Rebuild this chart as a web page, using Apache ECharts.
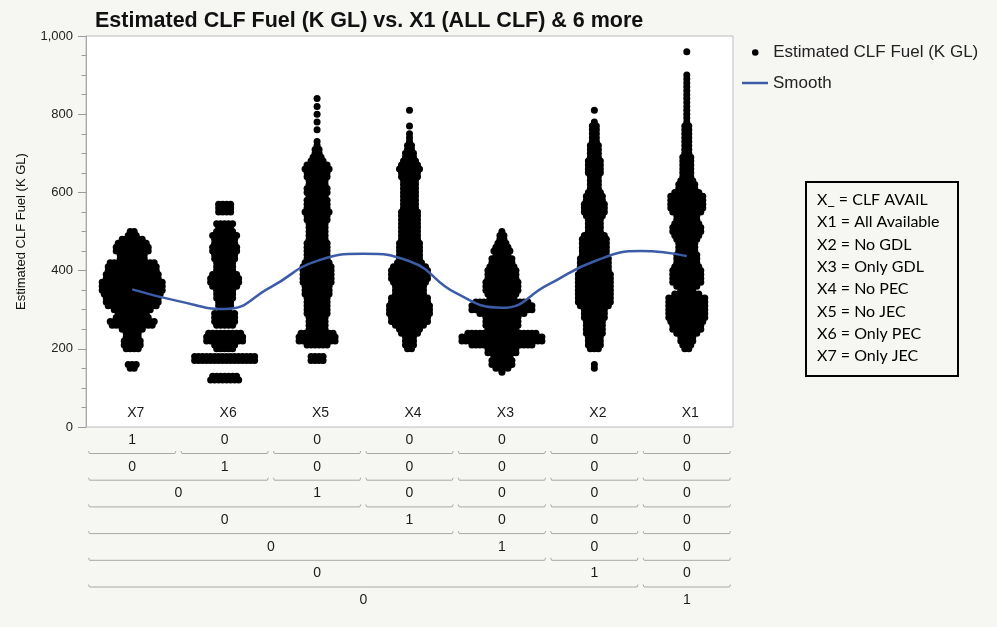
<!DOCTYPE html>
<html>
<head>
<meta charset="utf-8">
<script src="https://cdn.jsdelivr.net/npm/echarts@6/dist/echarts.min.js"></script>
<style>
  html, body { margin: 0; padding: 0; background: #f6f6f3; }
  #chart { width: 997px; height: 627px; }
</style>
</head>
<body>
<div id="chart"></div>
<script>
// Categories along the x axis (left to right)
const categories = ['X7', 'X6', 'X5', 'X4', 'X3', 'X2', 'X1'];

// Beeswarm rows: how many dots sit side by side in each 10 K GL band,
// listed from the group's lowest band upward.
const bandStep = 10;
const x7Base = 150;
const x7Counts = [2,3,0,0,0,4,5,5,4,4,6,11,12,9,8,10,13,14,14,15,16,16,16,14,14,13,13,12,7,7,9,9,8,6,3,2];
const x6Base = 120;
const x6Counts = [8,7,0,0,0,16,16,0,5,6,10,10,9,0,5,6,6,6,3,4,4,5,5,5,7,8,8,7,5,5,5,6,6,7,7,6,6,7,5,4,5,0,0,4,4,4];
const x5Base = 170;
const x5Counts = [4,4,0,0,6,10,10,9,5,5, 5,5,6,6,6,6,6,7,7,7, 8,8,8,8,8,7,6,6,6,6, 6,5,5,5,5,5,6,6,7,6, 6,6,5,6,6,5,5,6,6,7, 6,4,3,2,2,1,1,0,0,1, 0,1,0,1,0,1,0,1];
const x4Base = 200;
const x4Counts = [2,3,3,3,5,6,8,10,10,11, 11,11,10,10,8,8,8,9,10,10, 10,9,7,6,6,6,6,6,5,5, 5,5,5,5,5,5,4,4,4,4, 4,4,4,4,5,5,6,5,4,3, 3,2,2,1,1,1,0,1,0,0, 0,1];
const x3Base = 140;
const x3Counts = [1,4,6,6,5,8,8,16,21,21, 18,8,9,9,9,12,16,16,14,7, 8,9,9,9,8,8,8,7,6,6, 4,5,4,3,2,2,1];
const x2Base = 150;
const x2Counts = [1,1,0,0,0,3,4,4,4,5, 5,5,5,6,6,6,8,9,9,9, 9,9,9,9,9,8,8,8,8,7, 7,7,7,7,6,4,4,4,4,5, 6,6,6,5,5,4,3,3,3,3, 4,4,4,4,3,3,3,3,2,2, 2,2,2,1,0,0,1];
const x1Base = 200;
const x1Counts = [2,3,4,4,6,8,8,9,10,10, 10,10,10,10,7,4,6,8,8,8, 8,7,6,6,6,5,5,5,6,7, 8,8,7,6,6,8,9,9,9,9, 7,5,5,4,3,3,3,3,3,3, 2,2,2,2,2,2,2,2,1,1, 1,1,1,1,1,1,1,1,1,1, 1,0,0,0,0,0,1];

const groupBases = [x7Base, x6Base, x5Base, x4Base, x3Base, x2Base, x1Base];
const groupCounts = [x7Counts, x6Counts, x5Counts, x4Counts, x3Counts, x2Counts, x1Counts];

// Smoothing curve, read at every half category step
const smoothAt = [0, 0.5, 1, 1.5, 2, 2.5, 3, 3.5, 4, 4.5, 5, 5.5, 6];
const smoothValues = [352, 322, 302, 358, 425, 443, 424, 343, 305, 364, 424, 450, 437];

// Y axis ticks
const yMin = 0, yMax = 1000, yInterval = 200;

// Text of the key box on the right
const keyLines = ['X_ = CLF AVAIL', 'X1 = All Available', 'X2 = No GDL', 'X3 = Only GDL',
                  'X4 = No PEC', 'X5 = No JEC', 'X6 = Only PEC', 'X7 = Only JEC'];

const seriesName = 'Estimated CLF Fuel (K GL)';
const smoothName = 'Smooth';

// ---- layout / style ----
const BG = '#f6f6f3';
const DOT = 7;         // dot diameter, px
const DOT_STEP = 4;    // horizontal spacing of side-by-side dots, px
const SANS = '"Liberation Sans", Arial, sans-serif';
const LINE_BLUE = '#3c5ca8';

// Expand the band counts into beeswarm points, offset sideways in pixels
const swarm = [];
groupCounts.forEach((counts, gi) => {
  counts.forEach((n, bi) => {
    const v = groupBases[gi] + bi * bandStep;
    for (let k = 0; k < n; k++) {
      swarm.push({ value: [gi, v], symbolOffset: [(k - (n - 1) / 2) * DOT_STEP, 0] });
    }
  });
});

const chart = echarts.init(document.getElementById('chart'), null, { renderer: 'canvas' });

const option = {
  backgroundColor: BG,
  animation: false,
  title: {
    text: 'Estimated CLF Fuel (K GL) vs. X1 (ALL CLF) & 6 more',
    left: 90, top: 5,
    textStyle: { fontFamily: SANS, fontSize: 21.5, fontWeight: 'bold', color: '#111' }
  },
  legend: {
    orient: 'vertical',
    left: 747, top: 39,
    itemWidth: 26, itemHeight: 6.5,
    textStyle: { fontFamily: SANS, fontSize: 17, color: '#222' },
    data: [{ name: seriesName, icon: 'circle', itemStyle: { color: '#000' } }]
  },
  grid: {
    left: 86, right: 264, top: 36, bottom: 200,
    show: true, backgroundColor: '#ffffff', borderColor: '#bdbdbd', borderWidth: 1
  },
  xAxis: [
    {
      type: 'category', data: categories, boundaryGap: true,
      axisLine: { show: false }, axisTick: { show: false }, splitLine: { show: false },
      axisLabel: {
        inside: true, margin: 7, padding: [0, 0, 0, 7],
        fontFamily: SANS, fontSize: 14, color: '#1a1a1a'
      }
    },
    {
      type: 'value', min: -0.5, max: categories.length - 0.5, show: false
    }
  ],
  yAxis: {
    type: 'value', min: yMin, max: yMax, interval: yInterval,
    name: seriesName, nameLocation: 'middle', nameGap: 58, nameRotate: 90,
    nameTextStyle: { fontFamily: SANS, fontSize: 13, color: '#111' },
    axisLine: { show: true, onZero: false, lineStyle: { color: '#a9a9a9' } },
    axisTick: { show: true, length: 8, lineStyle: { color: '#9a9a9a' } },
    minorTick: { show: true, splitNumber: 4, length: 4.5, lineStyle: { color: '#9a9a9a' } },
    splitLine: { show: false },
    axisLabel: {
      margin: 13, fontFamily: SANS, fontSize: 13, color: '#222',
      formatter: v => v.toLocaleString('en-US')
    }
  },
  series: [
    {
      name: seriesName, type: 'scatter', xAxisIndex: 0, yAxisIndex: 0,
      data: swarm, symbol: 'circle', symbolSize: DOT,
      large: false, progressive: 0,
      itemStyle: { color: '#000', opacity: 1 },
      emphasis: { disabled: true }, z: 2
    },
    {
      name: smoothName, type: 'line', xAxisIndex: 1, yAxisIndex: 0,
      data: smoothAt.map((p, i) => [p, smoothValues[i]]),
      smooth: 0.5, symbol: 'none',
      lineStyle: { color: LINE_BLUE, width: 2.5 },
      itemStyle: { color: LINE_BLUE },
      z: 3
    }
  ]
};

chart.setOption(option);

// ---- nested indicator table under the plot, legend line entry and key box ----
const centers = categories.map((_, i) => chart.convertToPixel({ xAxisIndex: 0 }, i));
const band = centers[1] - centers[0];
const colLeft = i => centers[i] - band / 2;
const colRight = i => centers[i] + band / 2;

// Row k shows the 0/1 indicator of categories[k]; columns before k collapse into one "0"
function rowSpans(k) {
  const spans = [];
  if (k > 0) spans.push({ from: 0, to: k - 1, text: '0' });
  spans.push({ from: k, to: k, text: '1' });
  for (let j = k + 1; j < categories.length; j++) spans.push({ from: j, to: j, text: '0' });
  return spans;
}

const ROW0 = 440, ROW_STEP = 26.7;
const elements = [];
categories.forEach((_, k) => {
  const y = ROW0 + k * ROW_STEP;
  rowSpans(k).forEach(s => {
    const x = (colLeft(s.from) + colRight(s.to)) / 2;
    elements.push({
      type: 'text', silent: true,
      style: { text: s.text, x: x, y: y, align: 'center', verticalAlign: 'middle',
               font: '14px ' + SANS, fill: '#1a1a1a' }
    });
    if (k > 0) {
      // bracket above this label marking the columns it covers
      const by = y - ROW_STEP + 13.5;
      const x0 = colLeft(s.from) + 2.5, x1 = colRight(s.to) - 2.5;
      elements.push({
        type: 'polyline', silent: true,
        shape: { points: [[x0, by - 2.5], [x0 + 1, by], [x1 - 1, by], [x1, by - 2.5]] },
        style: { stroke: '#a8a8a8', lineWidth: 1, fill: null }
      });
    }
  });
});

// Legend entry for the smoothing line
elements.push({
  type: 'line', silent: true,
  shape: { x1: 742, y1: 83, x2: 768, y2: 83 },
  style: { stroke: LINE_BLUE, lineWidth: 2.5 }
});
elements.push({
  type: 'text', silent: true,
  style: { text: smoothName, x: 773, y: 83, align: 'left', verticalAlign: 'middle',
           font: '17px ' + SANS, fill: '#222' }
});

// Key box
const KEY_X = 806, KEY_Y = 182, KEY_W = 152, KEY_H = 194;
elements.push({
  type: 'rect', silent: true,
  shape: { x: KEY_X, y: KEY_Y, width: KEY_W, height: KEY_H },
  style: { fill: BG, stroke: '#000', lineWidth: 2 }
});
keyLines.forEach((t, i) => {
  elements.push({
    type: 'text', silent: true,
    style: { text: t, x: KEY_X + 11, y: KEY_Y + 18 + i * 22.3, align: 'left', verticalAlign: 'middle',
             font: '16px Lato, "Open Sans", sans-serif', fill: '#000' }
  });
});

chart.setOption({ graphic: { elements: elements } });
</script>
</body>
</html>
